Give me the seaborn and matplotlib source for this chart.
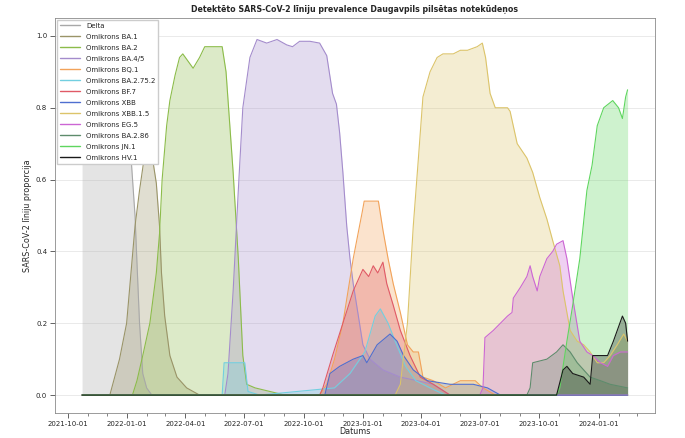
import pandas as pd
import matplotlib
matplotlib.use("Agg")
import matplotlib.pyplot as plt
import matplotlib.dates as mdates
from matplotlib.lines import Line2D
import seaborn as sns

lineages = ["Delta", "Omikrons BA.1", "Omikrons BA.2", "Omikrons BA.4/5",
            "Omikrons BQ.1", "Omikrons BA.2.75.2", "Omikrons BF.7", "Omikrons XBB",
            "Omikrons XBB.1.5", "Omikrons EG.5", "Omikrons BA.2.86",
            "Omikrons JN.1", "Omikrons HV.1"]
colors = ["#a8a8a8", "#9a9468", "#8cbc4a", "#a48ccc",
          "#f2a35a", "#72cfe0", "#e05a66", "#4f6fd0",
          "#dcc46a", "#cc66d4", "#5e8c6c",
          "#5fd65f", "#1a1a1a"]

delta_dates = ["2021-10-23", "2021-11-19", "2021-12-17", "2021-12-27", "2022-01-05",
               "2022-01-13", "2022-01-16", "2022-01-20", "2022-01-25", "2022-01-31",
               "2022-02-08"]
delta_vals = [1.0, 1.0, 1.0, 0.9, 0.71, 0.5, 0.37, 0.2, 0.06, 0.02, 0.0]

ba1_dates = ["2021-12-05", "2021-12-20", "2021-12-31", "2022-01-13", "2022-01-20",
             "2022-01-28", "2022-02-05", "2022-02-09", "2022-02-15", "2022-02-20",
             "2022-02-23", "2022-02-28", "2022-03-08", "2022-03-19", "2022-04-03",
             "2022-04-23"]
ba1_vals = [0.0, 0.1, 0.2, 0.47, 0.57, 0.67, 0.72, 0.66, 0.59, 0.47,
            0.34, 0.22, 0.11, 0.05, 0.02, 0.0]

ba2_dates = ["2022-01-09", "2022-01-16", "2022-01-25", "2022-02-05", "2022-02-15",
             "2022-02-20", "2022-02-24", "2022-03-03", "2022-03-08", "2022-03-16",
             "2022-03-23", "2022-03-28", "2022-04-05", "2022-04-13", "2022-04-23",
             "2022-05-01", "2022-05-14", "2022-05-28", "2022-06-03", "2022-06-14",
             "2022-06-22", "2022-06-29", "2022-07-05", "2022-07-18", "2022-08-10",
             "2022-09-02"]
ba2_vals = [0.0, 0.04, 0.11, 0.2, 0.34, 0.45, 0.6, 0.75, 0.82, 0.89,
            0.94, 0.95, 0.93, 0.91, 0.94, 0.97, 0.97, 0.97, 0.9, 0.62,
            0.38, 0.11, 0.03, 0.02, 0.01, 0.0]

ba5_dates = ["2022-06-01", "2022-06-06", "2022-06-14", "2022-06-22", "2022-06-29",
             "2022-07-10", "2022-07-21", "2022-08-05", "2022-08-21", "2022-09-05",
             "2022-09-14", "2022-09-25", "2022-10-11", "2022-10-26", "2022-11-06",
             "2022-11-15", "2022-11-21", "2022-11-26", "2022-12-01", "2022-12-07",
             "2022-12-12", "2022-12-17", "2022-12-25", "2023-01-01", "2023-01-12",
             "2023-02-01", "2023-02-28", "2023-03-26", "2023-04-20", "2023-05-16"]
ba5_vals = [0.0, 0.06, 0.29, 0.57, 0.8, 0.94, 0.99, 0.98, 0.99, 0.975,
            0.97, 0.985, 0.985, 0.98, 0.945, 0.84, 0.81, 0.73, 0.62, 0.47,
            0.38, 0.31, 0.22, 0.14, 0.1, 0.07, 0.05, 0.04, 0.03, 0.0]

bq1_dates = ["2022-10-26", "2022-11-06", "2022-11-18", "2022-12-01", "2022-12-17",
             "2022-12-31", "2023-01-03", "2023-01-25", "2023-02-01", "2023-02-09",
             "2023-02-17", "2023-02-28", "2023-03-11", "2023-03-20", "2023-03-28",
             "2023-04-04", "2023-04-20", "2023-05-09", "2023-06-01", "2023-06-24",
             "2023-07-06", "2023-07-25"]
bq1_vals = [0.0, 0.03, 0.1, 0.2, 0.38, 0.51, 0.54, 0.54, 0.46, 0.38,
            0.31, 0.23, 0.14, 0.12, 0.12, 0.05, 0.04, 0.02, 0.04, 0.04,
            0.02, 0.0]

ba275_dates = ["2022-05-28", "2022-05-31", "2022-07-02", "2022-07-07", "2022-07-25",
               "2022-11-18", "2022-12-12", "2023-01-04", "2023-01-20", "2023-01-28",
               "2023-02-09", "2023-02-20", "2023-03-08", "2023-03-24", "2023-04-15",
               "2023-05-09"]
ba275_vals = [0.0, 0.09, 0.09, 0.01, 0.0, 0.02, 0.06, 0.12, 0.22, 0.24,
              0.2, 0.15, 0.08, 0.04, 0.02, 0.0]

bf7_dates = ["2022-10-26", "2022-10-31", "2022-11-15", "2022-12-01", "2022-12-17",
             "2023-01-01", "2023-01-10", "2023-01-17", "2023-01-24", "2023-02-01",
             "2023-02-07", "2023-02-17", "2023-02-28", "2023-03-15", "2023-03-31",
             "2023-04-20", "2023-05-16"]
bf7_vals = [0.0, 0.02, 0.11, 0.2, 0.29, 0.35, 0.33, 0.36, 0.34, 0.37,
            0.31, 0.25, 0.18, 0.11, 0.05, 0.03, 0.0]

xbb_dates = ["2022-11-03", "2022-11-11", "2022-11-26", "2022-12-17", "2023-01-01",
             "2023-01-07", "2023-01-23", "2023-02-12", "2023-02-23", "2023-03-05",
             "2023-03-20", "2023-04-11", "2023-05-16", "2023-06-21", "2023-07-13",
             "2023-08-02"]
xbb_vals = [0.0, 0.06, 0.08, 0.1, 0.11, 0.09, 0.14, 0.17, 0.15, 0.11,
            0.07, 0.04, 0.03, 0.03, 0.02, 0.0]

xbb15_dates = ["2023-02-20", "2023-02-28", "2023-03-11", "2023-03-20", "2023-03-28",
               "2023-04-04", "2023-04-15", "2023-04-26", "2023-05-05", "2023-05-21",
               "2023-06-01", "2023-06-12", "2023-06-27", "2023-07-05", "2023-07-10",
               "2023-07-17", "2023-07-25", "2023-08-13", "2023-08-17", "2023-08-28",
               "2023-09-12", "2023-09-21", "2023-10-02", "2023-10-13", "2023-10-22",
               "2023-11-02", "2023-11-07", "2023-11-13", "2023-11-18", "2023-11-29",
               "2023-12-09", "2023-12-19", "2023-12-30", "2024-01-09", "2024-01-19",
               "2024-01-30", "2024-02-09", "2024-02-15"]
xbb15_vals = [0.0, 0.03, 0.2, 0.47, 0.66, 0.83, 0.9, 0.94, 0.95, 0.95,
              0.96, 0.96, 0.97, 0.98, 0.94, 0.84, 0.8, 0.8, 0.79, 0.7,
              0.66, 0.62, 0.55, 0.49, 0.43, 0.36, 0.29, 0.23, 0.18, 0.15,
              0.14, 0.12, 0.09, 0.09, 0.11, 0.14, 0.17, 0.15]

eg5_dates = ["2023-07-01", "2023-07-06", "2023-07-09", "2023-07-22", "2023-08-02",
             "2023-08-13", "2023-08-20", "2023-08-22", "2023-09-02", "2023-09-12",
             "2023-09-17", "2023-09-21", "2023-09-28", "2023-10-02", "2023-10-13",
             "2023-10-22", "2023-10-28", "2023-11-07", "2023-11-13", "2023-11-22",
             "2023-12-03", "2023-12-14", "2023-12-23", "2024-01-04", "2024-01-15",
             "2024-01-24", "2024-02-04", "2024-02-15"]
eg5_vals = [0.0, 0.02, 0.16, 0.18, 0.2, 0.22, 0.23, 0.27, 0.3, 0.33,
            0.36, 0.33, 0.29, 0.33, 0.38, 0.4, 0.42, 0.43, 0.38, 0.27,
            0.15, 0.12, 0.11, 0.09, 0.08, 0.11, 0.12, 0.12]

ba286_dates = ["2023-09-12", "2023-09-17", "2023-09-21", "2023-10-13", "2023-10-28",
               "2023-11-07", "2023-11-18", "2023-11-29", "2023-12-09", "2023-12-19",
               "2024-01-04", "2024-01-19", "2024-02-15"]
ba286_vals = [0.0, 0.02, 0.09, 0.1, 0.12, 0.14, 0.12, 0.09, 0.07, 0.05,
              0.04, 0.03, 0.02]

jn1_dates = ["2023-10-28", "2023-11-02", "2023-11-13", "2023-11-22", "2023-12-03",
             "2023-12-14", "2023-12-22", "2023-12-30", "2024-01-09", "2024-01-23",
             "2024-02-01", "2024-02-07", "2024-02-12", "2024-02-15"]
jn1_vals = [0.0, 0.02, 0.15, 0.25, 0.38, 0.57, 0.64, 0.75, 0.8, 0.82,
            0.8, 0.77, 0.83, 0.85]

hv1_dates = ["2023-10-28", "2023-11-07", "2023-11-13", "2023-11-22", "2023-12-09",
             "2023-12-19", "2023-12-23", "2024-01-04", "2024-01-15", "2024-01-24",
             "2024-02-07", "2024-02-12", "2024-02-15"]
hv1_vals = [0.0, 0.07, 0.08, 0.06, 0.05, 0.03, 0.11, 0.11, 0.11, 0.15,
            0.22, 0.2, 0.15]

series = [(delta_dates, delta_vals), (ba1_dates, ba1_vals), (ba2_dates, ba2_vals),
          (ba5_dates, ba5_vals), (bq1_dates, bq1_vals), (ba275_dates, ba275_vals),
          (bf7_dates, bf7_vals), (xbb_dates, xbb_vals), (xbb15_dates, xbb15_vals),
          (eg5_dates, eg5_vals), (ba286_dates, ba286_vals), (jn1_dates, jn1_vals),
          (hv1_dates, hv1_vals)]

first_day = pd.Timestamp(delta_dates[0])
last_day = pd.Timestamp(jn1_dates[-1])

frames = []
for name, (d, v) in zip(lineages, series):
    part = pd.DataFrame({"date": pd.to_datetime(d), "prop": v})
    # lines sit on zero outside the period where a lineage was seen
    pad = []
    if part["date"].min() > first_day:
        pad.append({"date": first_day, "prop": 0.0})
    if part["date"].max() < last_day:
        pad.append({"date": last_day, "prop": 0.0})
    part = pd.concat([part, pd.DataFrame(pad)], ignore_index=True)
    part["lineage"] = name
    frames.append(part.sort_values("date"))
df = pd.concat(frames, ignore_index=True)

palette = dict(zip(lineages, colors))

sns.set_theme(style="ticks")
plt.rcParams["font.family"] = ["DejaVu Sans"]

fig = plt.figure(figsize=(6.85, 4.38), dpi=100)
ax = fig.add_axes([0.080, 0.057, 0.876, 0.902])

sns.lineplot(data=df, x="date", y="prop", hue="lineage", hue_order=lineages,
             palette=palette, estimator=None, linewidth=0.8, legend=False, ax=ax)
for name in lineages:
    sub = df[df["lineage"] == name]
    ax.fill_between(sub["date"], 0, sub["prop"], color=palette[name],
                    alpha=0.3, linewidth=0)

ax.xaxis.set_major_locator(mdates.MonthLocator(bymonth=[1, 4, 7, 10]))
ax.xaxis.set_minor_locator(mdates.MonthLocator())
ax.xaxis.set_major_formatter(mdates.DateFormatter("%Y-%m-%d"))
ax.set_yticks([0.0, 0.2, 0.4, 0.6, 0.8, 1.0])
ax.tick_params(axis="both", labelsize=5, length=3.5, width=0.5, pad=2)
ax.tick_params(axis="x", which="minor", length=1.8, width=0.4)
ax.yaxis.grid(True, color="#e2e2e2", linewidth=0.5)
ax.set_axisbelow(True)
for sp in ax.spines.values():
    sp.set_color("#8a8a8a")
    sp.set_linewidth(0.6)

ax.set_title("Detektēto SARS-CoV-2 līniju prevalence Daugavpils pilsētas notekūdeņos",
             fontsize=5.7, fontweight="bold", pad=4)
ax.set_xlabel("Datums", fontsize=5.8, labelpad=0.5)
ax.set_ylabel("SARS-CoV-2 līniju proporcija", fontsize=5.8, labelpad=3)

handles = [Line2D([], [], color=c, linewidth=1.0) for c in colors]
ax.legend(handles, lineages, loc="upper left", fontsize=5, labelspacing=0.72,
          handlelength=3, frameon=True, borderaxespad=0.3, framealpha=1,
          edgecolor="#cccccc", fancybox=False)

fig.savefig("out.png", dpi=100)
